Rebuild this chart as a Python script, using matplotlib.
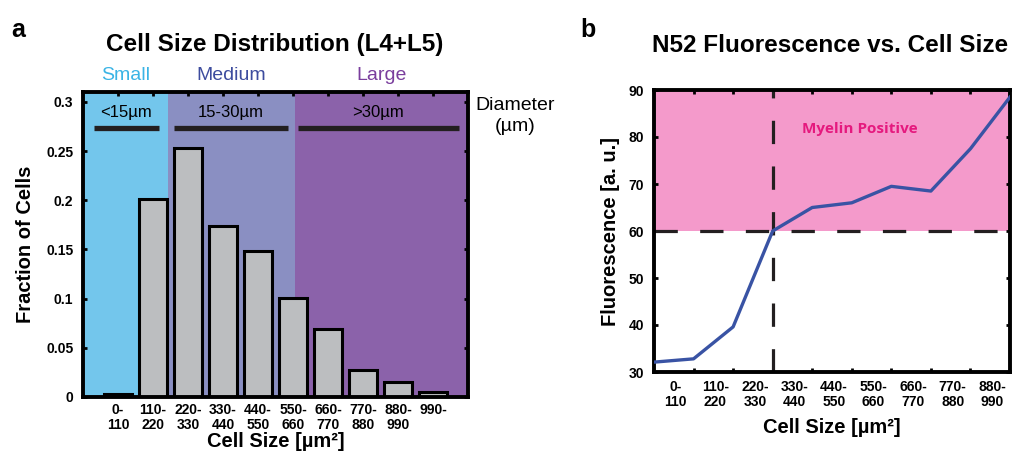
import numpy as np
import matplotlib
matplotlib.use("Agg")
import matplotlib.pyplot as plt

plt.rcParams['font.family'] = ['Liberation Sans', 'DejaVu Sans']

# ---- data ----
size_bins = ['0-\n110', '110-\n220', '220-\n330', '330-\n440', '440-\n550',
             '550-\n660', '660-\n770', '770-\n880', '880-\n990', '990-\n ']
fractions = [0.003, 0.201, 0.253, 0.174, 0.148, 0.101, 0.069, 0.027, 0.015, 0.005]

fluor_bins = ['0-\n110', '110-\n220', '220-\n330', '330-\n440', '440-\n550',
              '550-\n660', '660-\n770', '770-\n880', '880-\n990']
fluorescence = [32.1, 32.8, 39.6, 60.0, 65.0, 66.0, 69.5, 68.5, 77.5, 88.5]

size_groups = ['Small', 'Medium', 'Large']
group_diam = ['<15\u00b5m', '15-30\u00b5m', '>30\u00b5m']
group_span = [(0, 2.42), (2.42, 6.05), (6.05, 11)]
group_bar = [(0.31, 2.16), (2.59, 5.87), (6.13, 10.74)]
group_bg = ['#73C6EC', '#8A8FC2', '#8B62AA']
group_txt = ['#3BB4E5', '#3D4C9E', '#7A3E9D']

myelin_thresh = 60
threshold_bin = 3

fig = plt.figure(figsize=(10.13, 4.62), dpi=100)

# ---- panel a ----
ax1 = fig.add_axes([83/1013, 1-397/462, 385/1013, 305/462])
x = np.arange(1, len(fractions)+1)
for (a, b), c in zip(group_span, group_bg):
    ax1.axvspan(a, b, color=c, lw=0, zorder=0)
ax1.bar(x, fractions, width=0.82, color='#BCBEC0', edgecolor='black', lw=2.2, zorder=2)
for (a, b), lab in zip(group_bar, group_diam):
    ax1.plot([a, b], [0.273, 0.273], color='#231F20', lw=3.8, solid_capstyle='butt', zorder=3)
    ax1.text((a+b)/2, 0.282, lab, ha='center', va='bottom', fontsize=12, zorder=3)
for (a, b), lab, c in zip(group_span, size_groups, group_txt):
    ax1.text((a+b)/2, 0.318, lab, ha='center', va='bottom', fontsize=14, color=c)
ax1.text(12.35, 0.286, 'Diameter\n(\u00b5m)', ha='center', va='center', fontsize=14,
         linespacing=1.3)
ax1.set_xlim(0, 11)
ax1.set_ylim(0, 0.31)
ax1.set_xticks(x)
ax1.set_xticklabels(size_bins, fontsize=10, fontweight='bold', linespacing=1.1)
ax1.set_yticks([0, 0.05, 0.1, 0.15, 0.2, 0.25, 0.3])
ax1.set_yticklabels(['0', '0.05', '0.1', '0.15', '0.2', '0.25', '0.3'],
                    fontsize=10, fontweight='bold')
ax1.tick_params(direction='in', top=True, right=True, length=3, width=2, pad=7)
ax1.tick_params(axis='x', bottom=False, pad=4)
for s in ax1.spines.values():
    s.set_linewidth(2.8)
ax1.set_xlabel('Cell Size [\u00b5m\u00b2]', fontsize=14.5, fontweight='bold', labelpad=0)
ax1.set_ylabel('Fraction of Cells', fontsize=14.5, fontweight='bold', labelpad=8)
fig.text(275/1013, 1-45/462, 'Cell Size Distribution (L4+L5)', ha='center', va='center',
         fontsize=17.5, fontweight='bold')
fig.text(18/1013, 1-30/462, 'a', ha='center', va='center', fontsize=18, fontweight='bold')

# ---- panel b ----
ax2 = fig.add_axes([654/1013, 1-372/462, 356/1013, 282/462])
xf = np.arange(len(fluorescence))
dash = (0, (7.3, 7))
ax2.axhspan(myelin_thresh, 90, color='#F49ACB', lw=0, zorder=0)
ax2.axhline(myelin_thresh, color='#231F20', lw=2.3, ls=dash, zorder=2)
ax2.axvline(threshold_bin, color='#231F20', lw=2.3, ls=dash, zorder=2)
ax2.plot(xf, fluorescence, color='#3953A4', lw=2.4, zorder=3)
ax2.text(5.2, 81.6, 'Myelin Positive', ha='center', va='center', fontsize=11,
         fontweight='bold', color='#E5197E', family=['Open Sans', 'DejaVu Sans'])
ax2.set_xlim(0, 9)
ax2.set_ylim(30, 90)
ax2.set_xticks(np.arange(1, 9))
ax2.set_xticklabels([])
ax2.set_xticks(np.arange(len(fluor_bins)) + 0.55, minor=True)
ax2.set_xticklabels(fluor_bins, minor=True, fontsize=10, fontweight='bold', linespacing=1.1)
ax2.tick_params(axis='x', which='minor', length=0, pad=6)
ax2.set_yticks([30, 40, 50, 60, 70, 80, 90])
ax2.set_yticklabels(['30', '40', '50', '60', '70', '80', '90'], fontsize=10, fontweight='bold')
ax2.tick_params(which='major', direction='in', top=True, right=True, length=3, width=2, pad=7)
for s in ax2.spines.values():
    s.set_linewidth(2.8)
ax2.set_xlabel('Cell Size [\u00b5m\u00b2]', fontsize=14.5, fontweight='bold', labelpad=6)
ax2.set_ylabel('Fluorescence [a. u.]', fontsize=14.5, fontweight='bold', labelpad=6)
fig.text(830/1013, 1-45/462, 'N52 Fluorescence vs. Cell Size', ha='center', va='center',
         fontsize=17.5, fontweight='bold')
fig.text(588/1013, 1-30/462, 'b', ha='center', va='center', fontsize=18, fontweight='bold')

fig.savefig('out.png', dpi=100)
